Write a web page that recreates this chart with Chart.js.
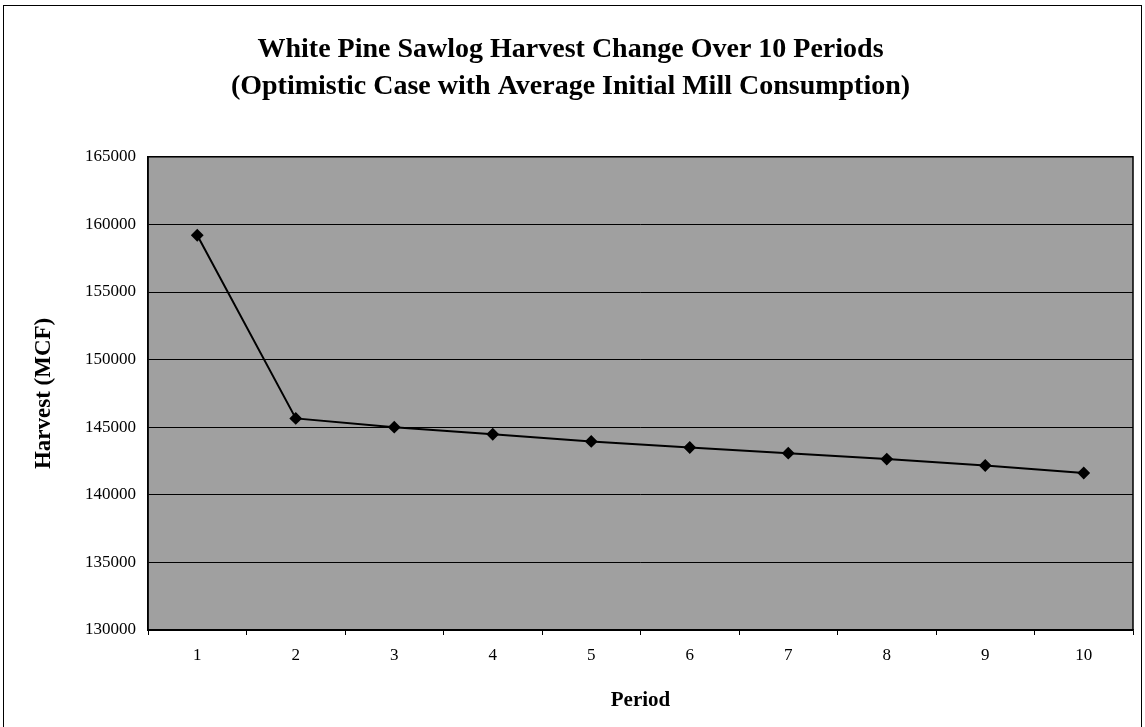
<!DOCTYPE html>
<html>
<head>
<meta charset="utf-8">
<script src="https://cdn.jsdelivr.net/npm/chart.js@4.4.1/dist/chart.umd.min.js"></script>
<style>
    body { margin: 0; background: #ffffff; }
    #wrap { width: 1145px; height: 727px; }
</style>
</head>
<body>
<div id="wrap"><canvas id="harvestChart"></canvas></div>
<script>
// values
var periods = ['1', '2', '3', '4', '5', '6', '7', '8', '9', '10'];
var harvest = [159200, 145650, 145000, 144480, 143950, 143500, 143080, 142640, 142170, 141610];
var yTicks = [130000, 135000, 140000, 145000, 150000, 155000, 160000, 165000];

var serif = '"Liberation Serif", "Times New Roman", serif';

// grey plot area, outer frame and right edge of the plot
var framePlugin = {
    id: 'frame',
    beforeDraw: function(chart) {
        var ctx = chart.ctx;
        var a = chart.chartArea;
        ctx.save();
        ctx.fillStyle = '#ffffff';
        ctx.fillRect(0, 0, chart.width, chart.height);
        ctx.fillStyle = '#a0a0a0';
        ctx.fillRect(a.left, a.top, a.right - a.left, a.bottom - a.top);
        ctx.restore();
    },
    afterDraw: function(chart) {
        var ctx = chart.ctx;
        var a = chart.chartArea;
        ctx.save();
        ctx.strokeStyle = '#000000';
        ctx.lineWidth = 1.5;
        ctx.strokeRect(a.left, a.top, a.right - a.left, a.bottom - a.top);
        ctx.lineWidth = 1;
        ctx.strokeRect(3.5, 5.5, 1138, 740);
        ctx.restore();
    }
};

var ctx = document.getElementById('harvestChart').getContext('2d');
var harvestChart = new Chart(ctx, {
    type: 'line',
    data: {
        labels: periods,
        datasets: [{
            data: harvest,
            borderColor: '#000000',
            backgroundColor: '#000000',
            borderWidth: 2,
            pointStyle: 'rectRot',
            pointRadius: 5,
            pointHoverRadius: 5,
            tension: 0
        }]
    },
    options: {
        responsive: true,
        maintainAspectRatio: false,
        animation: false,
        layout: { padding: { left: 8, right: 12, top: 0, bottom: 0 } },
        plugins: {
            legend: { display: false },
            tooltip: { enabled: false },
            title: {
                display: true,
                text: ['White Pine Sawlog Harvest Change Over 10 Periods',
                       '(Optimistic Case with Average Initial Mill Consumption)'],
                color: '#000000',
                font: { family: serif, size: 28, weight: 'bold', lineHeight: 1.3 },
                padding: { top: 32, bottom: 52 }
            }
        },
        scales: {
            x: {
                offset: true,
                grid: {
                    offset: true,
                    drawOnChartArea: false,
                    drawTicks: true,
                    tickLength: 5,
                    color: '#000000'
                },
                border: { color: '#000000', width: 1.5 },
                ticks: {
                    color: '#000000',
                    padding: 10,
                    font: { family: serif, size: 17 }
                },
                title: {
                    display: true,
                    text: 'Period',
                    color: '#000000',
                    font: { family: serif, size: 21, weight: 'bold' },
                    padding: { top: 4, bottom: 14 }
                },
                afterFit: function(scale) { scale.height = 97; }
            },
            y: {
                min: 130000,
                max: 165000,
                afterBuildTicks: function(scale) {
                    scale.ticks = yTicks.map(function(v) { return { value: v }; });
                },
                grid: {
                    color: '#000000',
                    lineWidth: 1,
                    drawTicks: false
                },
                border: { color: '#000000', width: 1.5 },
                ticks: {
                    color: '#000000',
                    padding: 12,
                    font: { family: serif, size: 17 },
                    callback: function(value) { return String(value); }
                },
                title: {
                    display: true,
                    text: 'Harvest (MCF)',
                    color: '#000000',
                    font: { family: serif, size: 23, weight: 'bold' },
                    padding: { top: 22, bottom: 0 }
                },
                afterFit: function(scale) { scale.width = 140; }
            }
        }
    },
    plugins: [framePlugin]
});
</script>
</body>
</html>
